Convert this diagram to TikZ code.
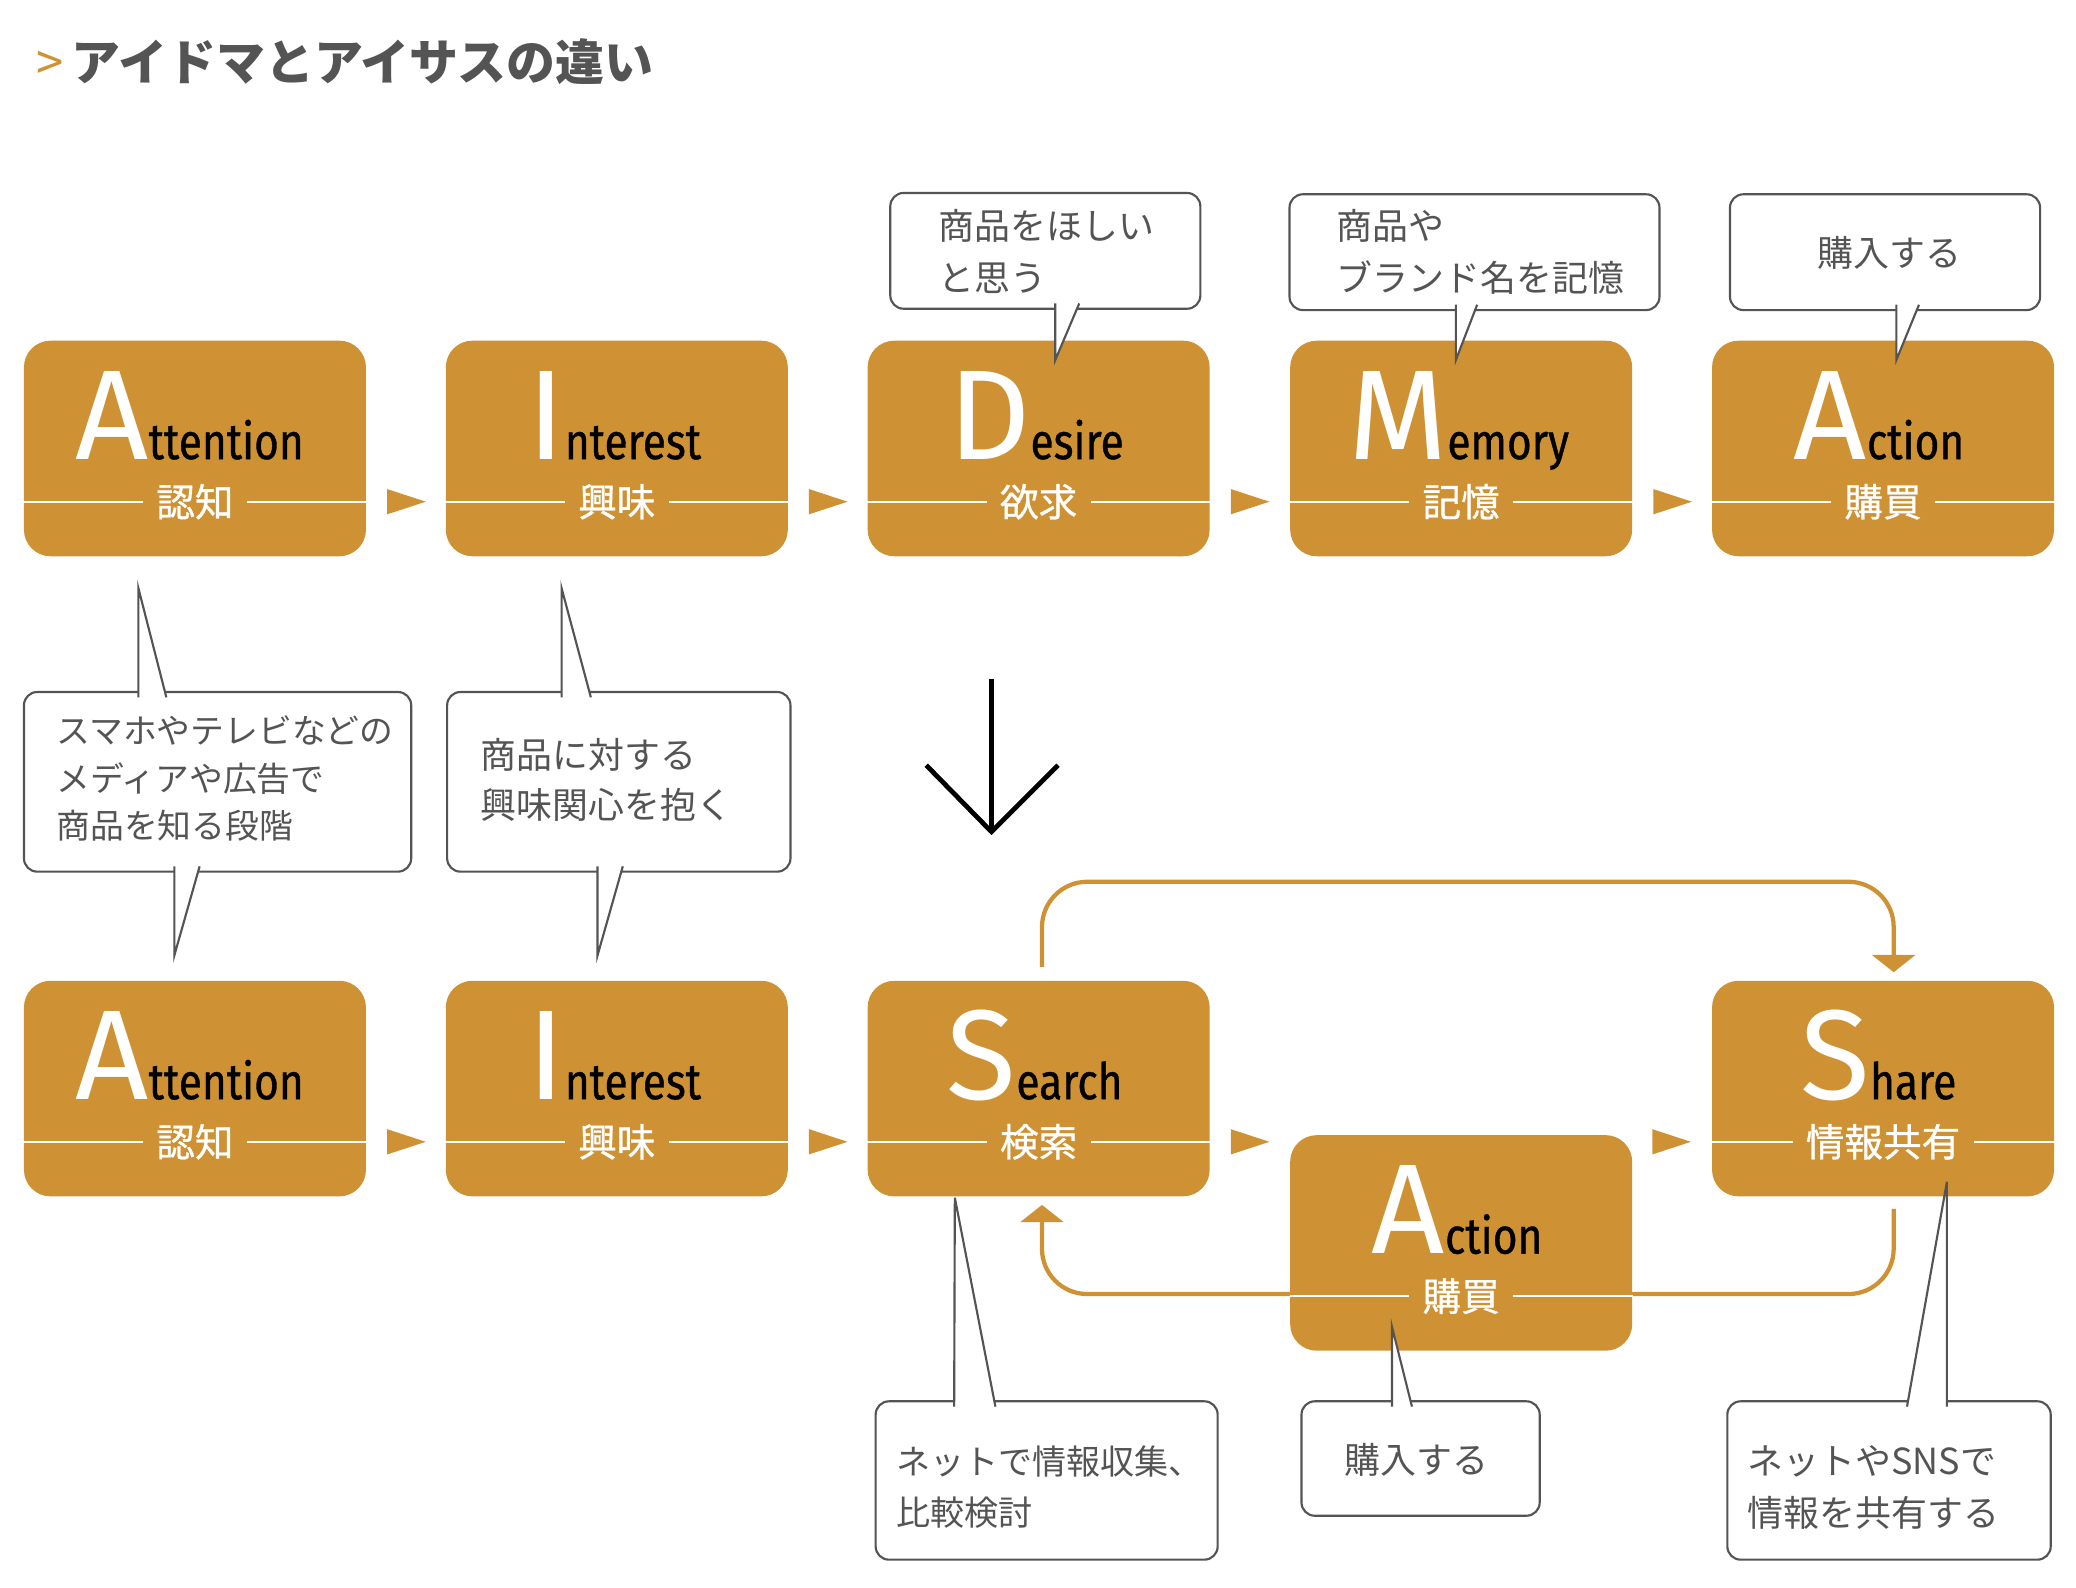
\documentclass[tikz,border=0pt]{standalone}
\usepackage{fontspec}
\setmainfont{Noto Sans CJK JP}
\newfontfamily\jpm[FakeBold=0.8]{Noto Sans CJK JP}
\newfontfamily\din{Fira Sans}
\newfontfamily\dinc[FakeStretch=0.84,FakeBold=0.7]{Fira Sans}
\usetikzlibrary{arrows.meta,calc}
\definecolor{gold}{RGB}{206,146,52}
\definecolor{ink}{RGB}{85,84,84}
\pgfdeclarelayer{bg}
\pgfsetlayers{bg,main}
\newcommand\stw[2]{{\din\fontsize{48}{48}\selectfont\color{white}#1}{\dinc\fontsize{19}{19}\selectfont\color{black}#2}}
\newcommand\tailshape[3]{\fill[white] #1 -- #3 -- #2 -- cycle; \draw[tailline] #1 -- #3 -- #2;}
\newcommand\tritip[1]{\fill[gold] #1 ++(-14.5,-9.5) -- ++(29,9.5) -- ++(-29,9.5) -- cycle;}
\tikzset{
  stage/.style={fill=gold, rounded corners=10pt, minimum width=128.5pt, minimum height=81pt, inner sep=0pt},
  word/.style={anchor=base, inner sep=0pt, text depth=0pt},
  lbl/.style={fill=gold, text=white, inner xsep=5pt, inner ysep=0pt, font=\jpm\fontsize{14.5}{14.5}\selectfont},
  divider/.style={white, line width=0.7pt},
  bubble/.style={draw=ink, line width=0.8pt, fill=white, rounded corners=5pt, inner sep=0pt},
  tailline/.style={ink, line width=0.8pt, line join=miter},
  btext/.style={anchor=west, align=left, text=ink, inner sep=0pt, font=\fontsize{13.5}{19.5}\selectfont},
  goldline/.style={gold, line width=1.6pt},
}
\begin{document}
\begin{tikzpicture}[x=0.5pt,y=-0.5pt]
\useasboundingbox (0,0) rectangle (1560,1193);
\begin{pgfonlayer}{bg}
\fill[white] (0,0) rectangle (1560,1193);
\end{pgfonlayer}

% title
\node[anchor=west, inner sep=0pt, text=ink, font=\fontsize{18.4}{18.4}\selectfont\bfseries] (title) at (27,46) {{\mdseries\color{gold}>}\,アイドマとアイサスの違い};

% stage boxes, top row
\node[stage] (a1) at (146.5,337) {};
\node[stage] (i1) at (463.5,337) {};
\node[stage] (d1) at (780.5,337) {};
\node[stage] (m1) at (1098,337) {};
\node[stage] (c1) at (1415,337) {};
% bottom row
\node[stage] (a2) at (146.5,818) {};
\node[stage] (i2) at (463.5,818) {};
\node[stage] (s2) at (780.5,818) {};
\node[stage] (c2) at (1098,934) {};
\node[stage] (sh) at (1415,818) {};

% divider lines and labels
\foreach \b/\t in {a1/認知,i1/興味,d1/欲求,m1/記憶,c1/購買,a2/認知,i2/興味,s2/検索,c2/購買,sh/情報共有}{
  \draw[divider] ([yshift=-20pt]\b.west) -- ([yshift=-20pt]\b.east);
  \node[lbl] (\b-lbl) at ([yshift=-20pt]\b.center) {\t};
}

% words
\node[word] (a1w) at ([xshift=-2pt,yshift=-4pt]a1.center) {\stw{A}{ttention}};
\node[word] (i1w) at ([xshift=-1pt,yshift=-4pt]i1.center) {\stw{I}{nterest}};
\node[word] (d1w) at ([xshift=-1pt,yshift=-4pt]d1.center) {\stw{D}{esire}};
\node[word] (m1w) at ([xshift=-1pt,yshift=-4pt]m1.center) {\stw{M}{emory}};
\node[word] (c1w) at ([xshift=-1.5pt,yshift=-4pt]c1.center) {\stw{A}{ction}};
\node[word] (a2w) at ([xshift=-2pt,yshift=-4pt]a2.center) {\stw{A}{ttention}};
\node[word] (i2w) at ([xshift=-1pt,yshift=-4pt]i2.center) {\stw{I}{nterest}};
\node[word] (s2w) at ([xshift=-1.5pt,yshift=-4pt]s2.center) {\stw{S}{earch}};
\node[word] (c2w) at ([xshift=-1.5pt,yshift=-4pt]c2.center) {\stw{A}{ction}};
\node[word] (shw) at ([xshift=-1.75pt,yshift=-4pt]sh.center) {\stw{S}{hare}};

% small triangles between stages
\foreach \b in {a1,i1,d1,m1,a2,i2,s2}{
  \tritip{([xshift=15pt,yshift=-20pt]\b.east)}
}
\tritip{([xshift=-15pt,yshift=-20pt]sh.west)}

% gold loops (behind the boxes)
\begin{pgfonlayer}{bg}
\draw[goldline, rounded corners=17pt, -{Triangle[width=16pt,length=6.5pt]}]
  ([xshift=1.25pt,yshift=5pt]s2.north) -- ++(0,-64) -| ([xshift=4pt,yshift=3pt]sh.north);
\draw[goldline, rounded corners=17pt, -{Triangle[width=16pt,length=6.5pt]}]
  ([xshift=4pt,yshift=-4.5pt]sh.south) -- ++(0,64) -| ([xshift=1.25pt,yshift=-3pt]s2.south);
\end{pgfonlayer}

% big down arrow
\coordinate (dn1) at (745,510);
\coordinate (dn2) at (745,625);
\draw[black, line width=1.8pt] (dn1) -- (dn2);
\draw[black, line width=1.8pt, line join=miter] (696,575) -- (dn2) -- (795,575);

% top callouts
\node[bubble, minimum width=116.5pt, minimum height=43.5pt] (bD) at (785.5,188.5) {};
\tailshape{(793,228)}{(811,228)}{(793,270.5)}
\node[btext] (tD) at (705,189) {商品をほしい\\と思う};

\node[bubble, minimum width=139pt, minimum height=43.5pt] (bM) at (1108,189.5) {};
\tailshape{(1094,229)}{(1110,229)}{(1094,270.5)}
\node[btext] (tM) at (1004,189) {商品や\\ブランド名を記憶};

\node[bubble, minimum width=116.5pt, minimum height=43.5pt] (bC) at (1416.5,189.5) {};
\tailshape{(1425,229)}{(1442,229)}{(1425,270.5)}
\node[btext, anchor=center] (tC) at (1420,190) {購入する};

% middle callouts
\node[bubble, minimum width=145.5pt, minimum height=67.5pt] (bA) at (163.5,587.5) {};
\tailshape{(104,524)}{(125,524)}{(104,442)}
\tailshape{(131,651)}{(150,651)}{(131,718)}
\node[btext, font=\fontsize{12.7}{18}\selectfont] (tA) at (42,585) {スマホやテレビなどの\\メディアや広告で\\商品を知る段階};

\node[bubble, minimum width=129pt, minimum height=67.5pt] (bI) at (465,587.5) {};
\tailshape{(422,524)}{(444,524)}{(422,442)}
\tailshape{(449,651)}{(468,651)}{(449,718)}
\node[btext, font=\fontsize{13.5}{19}\selectfont] (tI) at (361,586) {商品に対する\\興味関心を抱く};

% bottom callouts
\node[bubble, minimum width=128.5pt, minimum height=59.5pt] (bS) at (786.5,1112.5) {};
\tailshape{(717,1057)}{(748,1057)}{(717.5,900)}
\node[btext, font=\fontsize{12.8}{19.5}\selectfont] (tS) at (673,1117.5) {ネットで情報収集、\\比較検討};

\node[bubble, minimum width=89.5pt, minimum height=43pt] (bB) at (1067.5,1096) {};
\tailshape{(1046,1057)}{(1061,1057)}{(1046,997)}
\node[btext] (tB) at (1010,1097) {購入する};

\node[bubble, minimum width=121.5pt, minimum height=59.5pt] (bH) at (1419.5,1112.5) {};
\tailshape{(1433,1057)}{(1463,1057)}{(1463,888)}
\node[btext] (tH) at (1313,1117.5) {ネットやSNSで\\情報を共有する};
\end{tikzpicture}
\end{document}
